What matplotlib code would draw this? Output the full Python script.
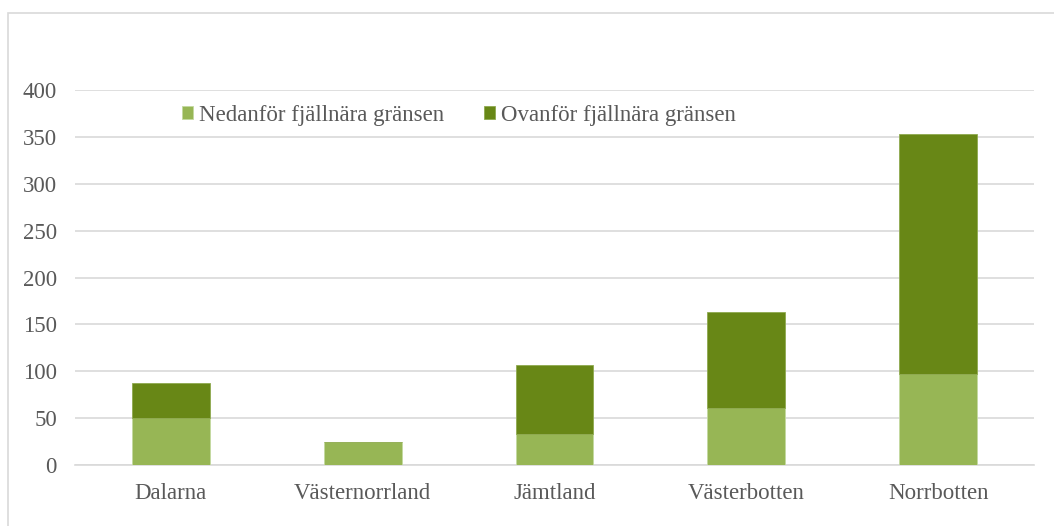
import numpy as np
import matplotlib.pyplot as plt
from matplotlib.patches import Rectangle

plt.rcParams['font.family'] = ['Liberation Serif', 'DejaVu Serif']

# data
lan = ["Dalarna", "Västernorrland", "Jämtland", "Västerbotten", "Norrbotten"]
nedanfor = [50, 25, 33, 61, 97]
ovanfor = [37, 0, 74, 102, 256]
yticks = [0, 50, 100, 150, 200, 250, 300, 350, 400]

light = "#97B655"
dark = "#688716"
textcol = "#595959"

fig = plt.figure(figsize=(10.54, 5.26), dpi=100)
ax = fig.add_axes([75/1054, 1 - 465/526, 959/1054, 375/526])

x = np.arange(len(lan))
ax.bar(x, nedanfor, width=0.405, color=light, edgecolor="#C4D9A0", linewidth=0.6,
       label="Nedanför fjällnära gränsen", zorder=3)
ax.bar(x, ovanfor, width=0.405, bottom=nedanfor, color=dark, edgecolor="#8FAA4F", linewidth=0.6,
       label="Ovanför fjällnära gränsen", zorder=3)

ax.set_xlim(-0.5, len(lan) - 0.5)
ax.set_ylim(0, 400)
ax.set_yticks(yticks)
ax.set_xticks(x)
ax.set_xticklabels(lan)
ax.grid(axis="y", color="#D9D9D9", linewidth=1.2, zorder=0)
for s in ["top", "right", "left"]:
    ax.spines[s].set_visible(False)
ax.spines["bottom"].set_color("#D9D9D9")
ax.spines["bottom"].set_linewidth(1.2)
ax.tick_params(axis="both", length=0, labelsize=16.5, colors=textcol)
ax.tick_params(axis="y", pad=13)
ax.tick_params(axis="x", pad=13)

fig.legend(loc="center left", bbox_to_anchor=(161/1054, 1 - 115/526), ncol=2, frameon=False,
           fontsize=16.5, handlelength=0.5, handleheight=0.5, handletextpad=0.25,
           columnspacing=1.75, labelcolor=textcol)

# chart frame
fig.patches.append(Rectangle((8/1054, -0.05), 1.1, 1 - 13/526 + 0.05, transform=fig.transFigure,
                             fill=False, edgecolor="#D9D9D9", linewidth=1.2))

fig.savefig("out.png", dpi=100)
